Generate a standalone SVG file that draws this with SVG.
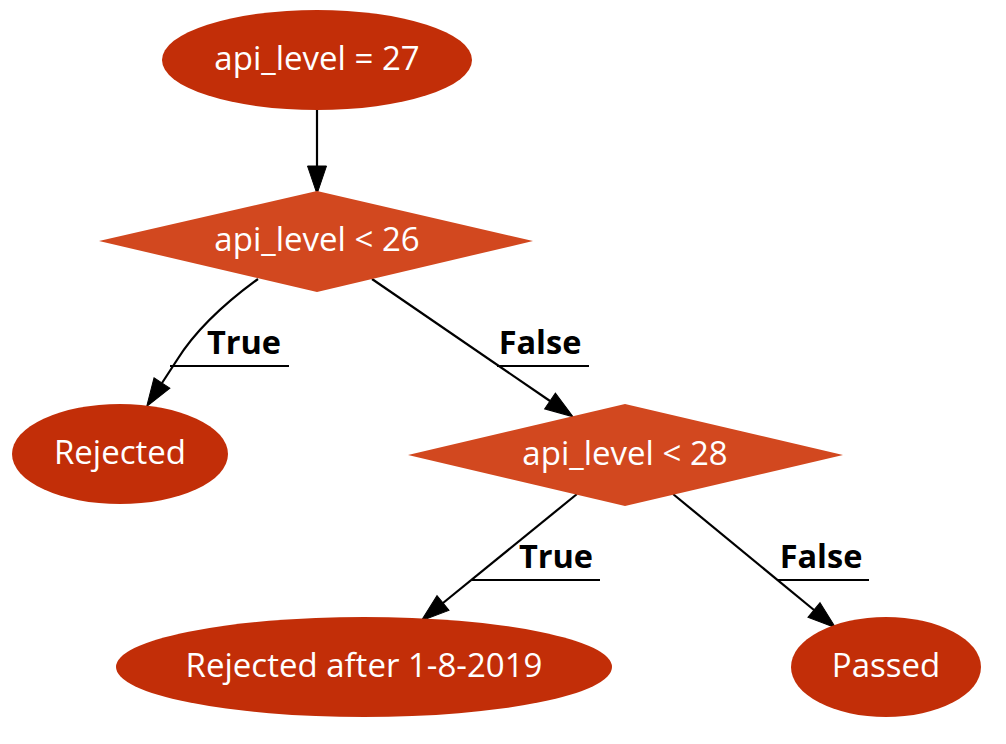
<svg xmlns="http://www.w3.org/2000/svg" width="1006" height="744" viewBox="0 0 1006 744">
<defs>
<style>
.ell{fill:#c22e08;stroke:none}
.dia{fill:#d2481f;stroke:none}
.nt{font-family:"Open Sans","Noto Sans",sans-serif;font-size:33px;fill:#ffffff;text-anchor:middle}
.el{font-family:"Open Sans","Noto Sans",sans-serif;font-size:32.5px;font-weight:bold;fill:#000000;text-anchor:middle}
.edge{fill:none;stroke:#000000;stroke-width:2.2}
.ul{fill:none;stroke:#000000;stroke-width:2.2}
</style>
<marker id="arr" markerUnits="userSpaceOnUse" markerWidth="30" markerHeight="22" refX="0" refY="10" orient="auto" viewBox="0 0 30 20" overflow="visible">
<path d="M0,0.5 L28,10 L0,19.5 z" fill="#000000" stroke="#000000" stroke-width="1"/>
</marker>
</defs>
<rect width="1006" height="744" fill="#ffffff"/>
<g id="connectors">
<path class="edge" d="M317,110 L317,166" marker-end="url(#arr)"/>
<path class="edge" d="M258,279 C225,303 197,328 177,360 L162,383" marker-end="url(#arr)"/>
<path class="edge" d="M372,279 L550,401" marker-end="url(#arr)"/>
<path class="edge" d="M577,494 L443,603" marker-end="url(#arr)"/>
<path class="edge" d="M673,494 L814,610" marker-end="url(#arr)"/>
<g id="label-true1"><text class="el" x="244" y="354">True</text><path class="ul" d="M170,366 L289,366"/></g>
<g id="label-false1"><text class="el" x="540" y="354">False</text><path class="ul" d="M497,366 L589,366"/></g>
<g id="label-true2"><text class="el" x="556" y="568">True</text><path class="ul" d="M472,580 L600,580"/></g>
<g id="label-false2"><text class="el" x="821" y="568">False</text><path class="ul" d="M778,580 L869,580"/></g>
</g>
<g id="n_start"><ellipse class="ell" cx="317" cy="60" rx="155" ry="50"/><text class="nt" x="317" y="70">api_level = 27</text></g>
<g id="n_lt26"><polygon class="dia" points="317,191 533,241 317,292 99,241"/><text class="nt" x="317" y="251">api_level &lt; 26</text></g>
<g id="n_rejected"><ellipse class="ell" cx="120" cy="454" rx="108" ry="50"/><text class="nt" x="120" y="464">Rejected</text></g>
<g id="n_lt28"><polygon class="dia" points="625,404 843,455 625,506 408,455"/><text class="nt" x="625" y="465">api_level &lt; 28</text></g>
<g id="n_rejected_after"><ellipse class="ell" cx="364" cy="667" rx="248" ry="50"/><text class="nt" x="364" y="677">Rejected after 1-8-2019</text></g>
<g id="n_passed"><ellipse class="ell" cx="886" cy="667" rx="95" ry="50"/><text class="nt" x="886" y="677">Passed</text></g>
</svg>
